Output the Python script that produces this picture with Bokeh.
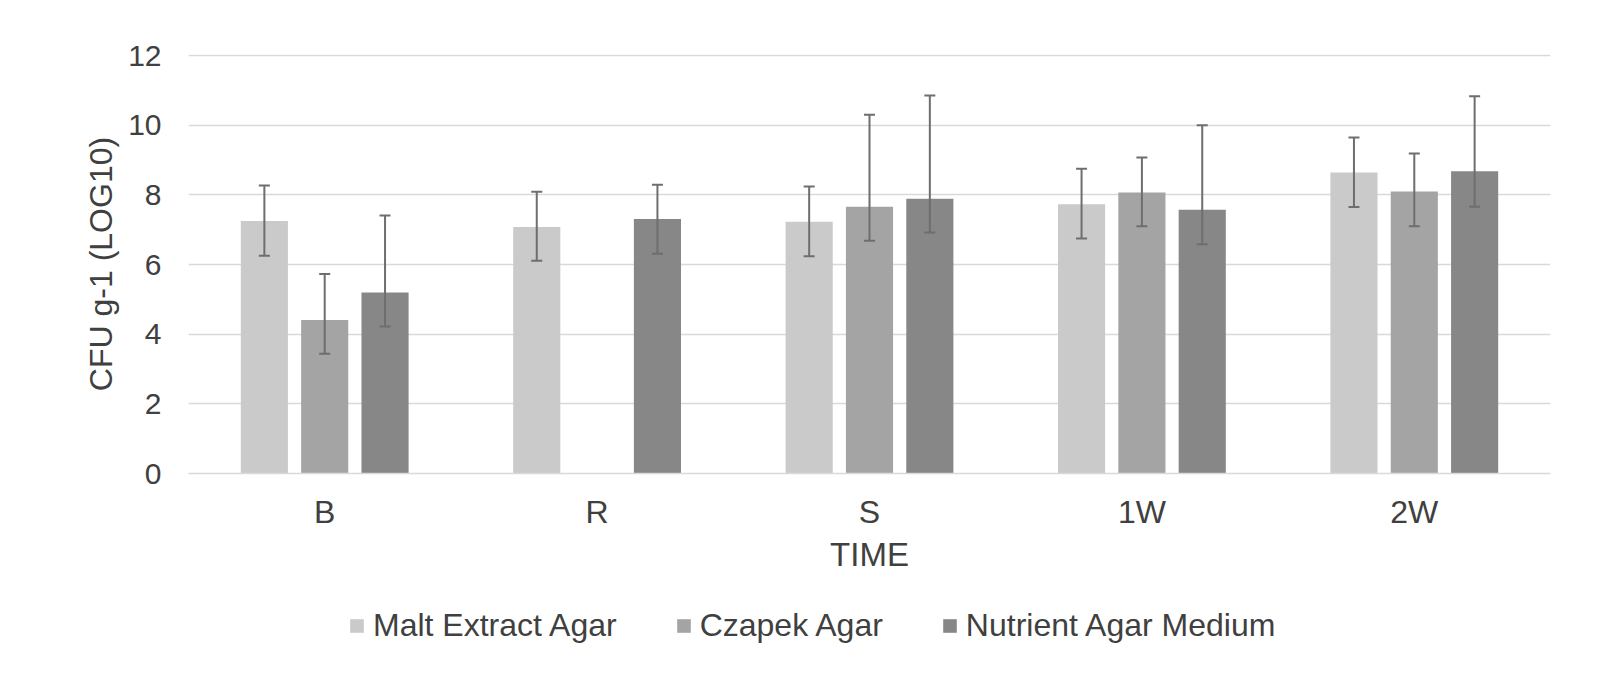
import math
from bokeh.plotting import figure
from bokeh.layouts import column
from bokeh.models import (FactorRange, Range1d, ColumnDataSource, Whisker, TeeHead,
                          FixedTicker, Legend, LegendItem)
from bokeh.transform import dodge
from bokeh.embed import file_html
from bokeh.resources import INLINE

nan = float("nan")

categories = ["B", "R", "S", "1W", "2W"]
series_names = ["Malt Extract Agar", "Czapek Agar", "Nutrient Agar Medium"]

malt = [7.25, 7.08, 7.23, 7.73, 8.64]
malt_upper = [8.27, 8.09, 8.24, 8.75, 9.65]
malt_lower = [6.25, 6.11, 6.24, 6.75, 7.65]

czapek = [4.41, nan, 7.66, 8.07, 8.10]
czapek_upper = [5.73, nan, 10.30, 9.07, 9.19]
czapek_lower = [3.44, nan, 6.68, 7.10, 7.10]

nutrient = [5.20, 7.31, 7.89, 7.57, 8.68]
nutrient_upper = [7.41, 8.29, 10.85, 10.00, 10.83]
nutrient_lower = [4.22, 6.31, 6.92, 6.58, 7.66]

y_ticks = [0, 2, 4, 6, 8, 10, 12]

colors = ["#cacaca", "#a4a4a4", "#878787"]
offsets = [-0.2215, 0.0, 0.2215]
bar_width = 0.173
text_color = "#404040"
font = "Liberation Sans"

p = figure(x_range=FactorRange(factors=categories, range_padding=0),
           y_range=Range1d(0, 12.03),
           width=1590, height=590,
           min_border_left=188, min_border_right=40,
           min_border_top=54, min_border_bottom=117,
           output_backend="svg", toolbar_location=None)

p.outline_line_color = None
p.background_fill_color = "white"
p.border_fill_color = "white"

p.xgrid.grid_line_color = None
p.ygrid.grid_line_color = "#d9d9d9"
p.ygrid.grid_line_width = 1.5

p.yaxis.ticker = FixedTicker(ticks=y_ticks)
p.yaxis.axis_line_color = None
p.yaxis.major_tick_line_color = None
p.yaxis.minor_tick_line_color = None
p.yaxis.major_tick_out = 0
p.yaxis.major_tick_in = 0
p.yaxis.major_label_standoff = 27
p.yaxis.major_label_text_font = font
p.yaxis.major_label_text_font_size = "30px"
p.yaxis.major_label_text_color = text_color
p.yaxis.axis_label = "CFU g-1 (LOG10)"
p.yaxis.axis_label_text_font = font
p.yaxis.axis_label_text_font_size = "32px"
p.yaxis.axis_label_text_font_style = "normal"
p.yaxis.axis_label_text_color = text_color
p.yaxis.axis_label_standoff = 6

p.xaxis.axis_line_color = "#d9d9d9"
p.xaxis.axis_line_width = 1.5
p.xaxis.major_tick_line_color = None
p.xaxis.minor_tick_line_color = None
p.xaxis.major_tick_out = 0
p.xaxis.major_tick_in = 0
p.xaxis.major_label_standoff = 20
p.xaxis.major_label_text_font = font
p.xaxis.major_label_text_font_size = "32px"
p.xaxis.major_label_text_color = text_color
p.xaxis.axis_label = "TIME"
p.xaxis.axis_label_text_font = font
p.xaxis.axis_label_text_font_size = "33px"
p.xaxis.axis_label_text_font_style = "normal"
p.xaxis.axis_label_text_color = text_color
p.xaxis.axis_label_standoff = 3

series = [(malt, malt_upper, malt_lower),
          (czapek, czapek_upper, czapek_lower),
          (nutrient, nutrient_upper, nutrient_lower)]

for (vals, up, lo), name, col, off in zip(series, series_names, colors, offsets):
    src = ColumnDataSource(data=dict(x=categories, top=vals, upper=up, lower=lo))
    p.vbar(x=dodge("x", off, range=p.x_range), top="top", width=bar_width,
           source=src, fill_color=col, line_color=None)
    w = Whisker(source=src, base=dodge("x", off, range=p.x_range),
                upper="upper", lower="lower", dimension="height",
                line_color="#6e6e6e", line_width=2, level="overlay",
                upper_head=TeeHead(size=11, line_color="#6e6e6e", line_width=2),
                lower_head=TeeHead(size=11, line_color="#6e6e6e", line_width=2))
    p.add_layout(w)

# Legend strip below the chart (frames are aligned by the column layout)
lf = figure(width=1590, height=76, x_range=Range1d(0, 1), y_range=Range1d(0, 1),
            x_axis_type=None, y_axis_type=None,
            min_border_left=188, min_border_right=40, min_border_top=0, min_border_bottom=0,
            output_backend="svg", toolbar_location=None)
lf.outline_line_color = None
lf.xgrid.grid_line_color = None
lf.ygrid.grid_line_color = None
lf.border_fill_color = "white"
lf.background_fill_color = "white"

items = []
for name, col in zip(series_names, colors):
    # hidden sample bar (outside the visible range) used only for the legend swatch
    r = lf.vbar(x=[-5], top=[-5], bottom=[-6], width=0.1, fill_color=col, line_color=None)
    items.append(LegendItem(label=name, renderers=[r]))

legend = Legend(items=items, orientation="horizontal", location=(160, 22),
                glyph_width=17, glyph_height=17, label_standoff=8, spacing=58,
                padding=0, margin=0, border_line_color=None,
                background_fill_alpha=0,
                label_text_font=font, label_text_font_size="32px",
                label_text_color=text_color)
lf.add_layout(legend, "center")

layout = column(p, lf, spacing=0)
open("out.html", "w").write(file_html(layout, INLINE))
